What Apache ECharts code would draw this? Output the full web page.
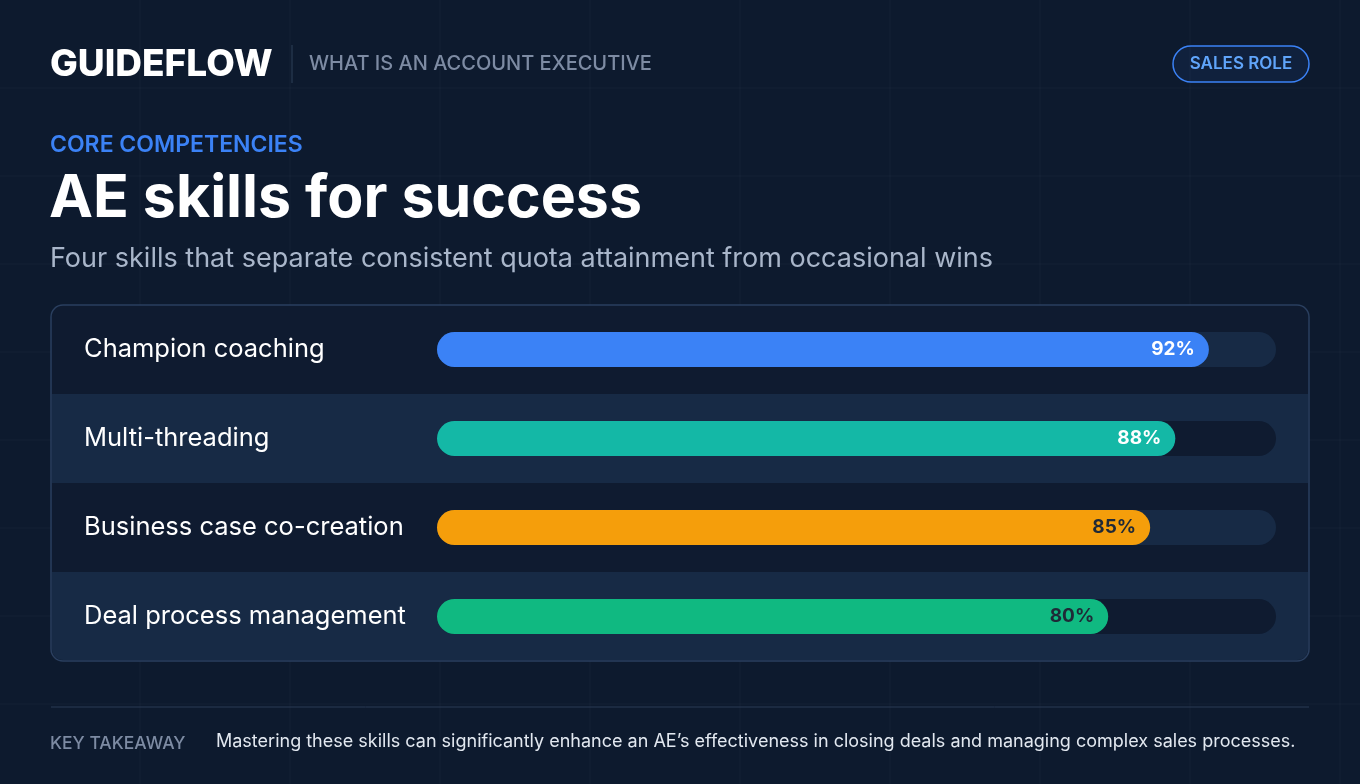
<!DOCTYPE html>
<html><head><meta charset="utf-8">
<script src="https://cdn.jsdelivr.net/npm/echarts@6/dist/echarts.min.js"></script>
<style>html,body{margin:0;padding:0;background:#0d1a2e}#c{width:1360px;height:784px}</style>
</head><body><div id="c"></div>
<script>
const categories = ['Champion coaching','Multi-threading','Business case co-creation','Deal process management'];
const values = [92, 88, 85, 80];
const barColors = ['#3b82f6','#14b8a6','#f59e0b','#10b981'];
const labelColors = ['#ffffff','#ffffff','#1f2937','#1f2937'];
const F = 'Inter, "Noto Sans", sans-serif';
const chart = echarts.init(document.getElementById('c'));
const trackBg = (i) => i % 2 ? '#0f1b30' : '#172a45';
const gridLines = [];
[88,176,264,352,440,528,616,704].forEach(y=>gridLines.push({type:'line',silent:true,z:-10,shape:{x1:0,y1:y,x2:1360,y2:y},style:{stroke:'rgba(255,255,255,0.03)',lineWidth:1}}));
[140,290,440,590,740,890,1040,1190,1340].forEach(x=>gridLines.push({type:'line',silent:true,z:-10,shape:{x1:x,y1:0,x2:x,y2:784},style:{stroke:'rgba(255,255,255,0.03)',lineWidth:1}}));
chart.setOption({
  backgroundColor: '#0d1a2e',
  animation: false,
  grid: {left: 437, right: 84, top: 305, bottom: 123},
  xAxis: {type: 'value', min: 0, max: 100, show: false},
  yAxis: {type: 'category', data: categories, inverse: true,
    axisLine: {show: false}, axisTick: {show: false},
    axisLabel: {align: 'left', margin: 353, color: '#ffffff', fontSize: 25.5, fontFamily: F}},
  graphic: gridLines.concat([
    {type:'rect', z:-1, shape:{x:51,y:305,width:1258,height:356,r:12}, style:{fill:'#0f1b30',stroke:'#2a3f5f',lineWidth:1.5}},
    {type:'rect', z:-1, shape:{x:52,y:394,width:1256,height:89}, style:{fill:'#172a45'}},
    {type:'rect', z:-1, shape:{x:52,y:572,width:1256,height:88,r:[0,0,11,11]}, style:{fill:'#172a45'}},
    {type:'text', left:50, top:46, style:{text:'GUIDEFLOW', fill:'#ffffff', font:'800 37px '+F}},
    {type:'line', shape:{x1:292,y1:45,x2:292,y2:83}, style:{stroke:'#2f4058',lineWidth:1}},
    {type:'text', left:309, top:54, style:{text:'WHAT IS AN ACCOUNT EXECUTIVE', fill:'#7d8ba3', font:'500 20px '+F}},
    {type:'rect', shape:{x:1173,y:46,width:136,height:36,r:18}, style:{fill:'rgba(59,130,246,0.08)',stroke:'#3b82f6',lineWidth:1.5}},
    {type:'text', x:1241, y:64, style:{text:'SALES ROLE', fill:'#60a5fa', font:'600 17px '+F, align:'center', verticalAlign:'middle'}},
    {type:'text', left:50, top:134, style:{text:'CORE COMPETENCIES', fill:'#3b82f6', font:'600 23px '+F}},
    {type:'text', left:49, top:170, style:{text:'AE skills for success', fill:'#ffffff', font:'700 59px '+F}},
    {type:'text', left:50, top:245, style:{text:'Four skills that separate consistent quota attainment from occasional wins', fill:'#a9b6ca', font:'400 27px '+F}},
    {type:'line', shape:{x1:51,y1:707,x2:1309,y2:707}, style:{stroke:'#2a3b55',lineWidth:1}},
    {type:'text', left:50, top:735, style:{text:'KEY TAKEAWAY', fill:'#7d8ba3', font:'500 17.5px '+F}},
    {type:'text', left:216, top:733, style:{text:'Mastering these skills can significantly enhance an AE\u2019s effectiveness in closing deals and managing complex sales processes.', fill:'#e2e8f0', font:'400 18px '+F}}
  ]),
  series: [
    {type:'bar', barWidth:35, silent:true, barGap:'-100%', z:1,
     data: categories.map((c,i)=>({value:100, itemStyle:{color:trackBg(i), borderRadius:18}}))},
    {type:'bar', barWidth:35, z:2,
     data: values.map((v,i)=>({value:v, itemStyle:{color:barColors[i], borderRadius:18},
       label:{show:true, position:'insideRight', distance:14, formatter:'{c}%', color:labelColors[i], fontSize:19, fontWeight:700, fontFamily:F}}))}
  ]
});
</script></body></html>
